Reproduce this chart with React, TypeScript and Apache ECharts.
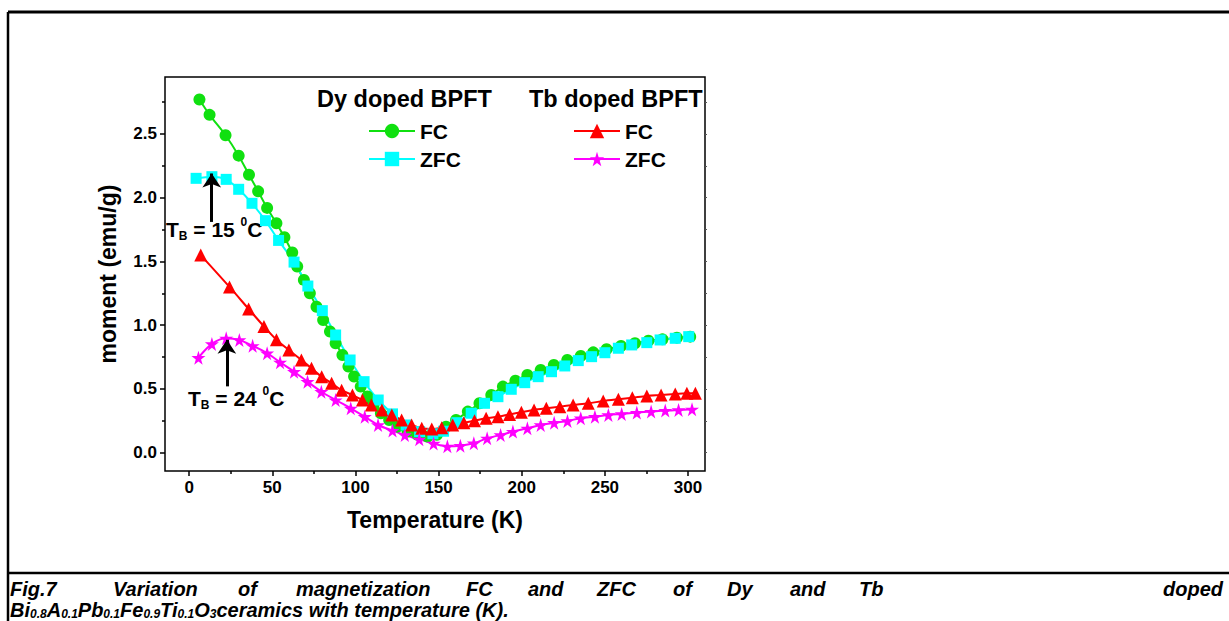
import React, { useEffect, useRef } from "react";
import * as echarts from "echarts";

// ---- data ----
const dyFC: [number, number][] = [
  [6.2, 2.77], [12.3, 2.65], [21.9, 2.49], [29.8, 2.33], [36, 2.18], [41.5, 2.05], [46.9, 1.92],
  [52.5, 1.8], [57.3, 1.69], [62, 1.57], [65, 1.46], [69, 1.355], [72.6, 1.25], [76.6, 1.145],
  [80.6, 1.04], [84.7, 0.95], [88.1, 0.858], [92.2, 0.766], [95.8, 0.675], [99.2, 0.597],
  [103.2, 0.518], [107.2, 0.44], [110.9, 0.374], [115.3, 0.309], [120.3, 0.256], [125.3, 0.204],
  [131.4, 0.165], [137.4, 0.139], [143.4, 0.126], [149, 0.14], [154.5, 0.204], [160.5, 0.256],
  [167.6, 0.322], [174.6, 0.387], [181.7, 0.453], [188.7, 0.518], [196.2, 0.565], [203.4, 0.609],
  [211.4, 0.649], [219.3, 0.688], [227.4, 0.727], [235.5, 0.758], [243, 0.787], [251, 0.811],
  [259.7, 0.837], [268.1, 0.858], [276.2, 0.878], [284.6, 0.889], [293.3, 0.902], [301.3, 0.91],
];
const dyZFC: [number, number][] = [
  [4.2, 2.152], [13.7, 2.165], [22.3, 2.144], [29.8, 2.066], [37.8, 1.956], [45.9, 1.82],
  [53.8, 1.665], [63.1, 1.495], [71.4, 1.307], [80.1, 1.114], [88.1, 0.923], [96.8, 0.727],
  [105.2, 0.557], [113.7, 0.413], [122.3, 0.304], [130.5, 0.217], [138.6, 0.165], [146.6, 0.148],
  [153, 0.168], [161, 0.235], [169.6, 0.309], [177.6, 0.387], [185.7, 0.439], [193.7, 0.497],
  [201.8, 0.549], [209.9, 0.596], [217.9, 0.635], [225.9, 0.68], [234, 0.722], [242, 0.753],
  [250, 0.784], [258.1, 0.819], [266.1, 0.845], [275.2, 0.863], [283.2, 0.884], [292.3, 0.897],
  [300.4, 0.91],
];
const tbFC: [number, number][] = [
  [7, 1.55], [24.3, 1.3], [35.8, 1.127], [45, 0.99], [52.5, 0.886], [60, 0.805], [67.5, 0.727],
  [73.6, 0.662], [79.7, 0.596], [85.7, 0.544], [91.7, 0.49], [98.2, 0.452], [104.2, 0.413],
  [109.6, 0.374], [115.9, 0.335], [121.9, 0.296], [127.8, 0.256], [133.8, 0.217], [139.9, 0.191],
  [145.9, 0.185], [151.9, 0.195], [158.5, 0.217], [165.2, 0.235], [171.6, 0.251], [178.6, 0.27],
  [185.7, 0.282], [192.7, 0.3], [199.8, 0.317], [207.4, 0.335], [214.8, 0.348], [222.9, 0.361],
  [230.9, 0.374], [240, 0.387], [249, 0.405], [258.1, 0.419], [266.5, 0.431], [275.2, 0.445],
  [283.8, 0.452], [292.3, 0.46], [299.3, 0.466], [304.4, 0.466],
];
const tbZFC: [number, number][] = [
  [5.6, 0.745], [13.7, 0.853], [22.3, 0.897], [30.2, 0.884], [38.2, 0.838], [46.9, 0.78],
  [54.7, 0.709], [63.1, 0.635], [71.2, 0.557], [79.5, 0.478], [88.1, 0.413], [97.2, 0.348],
  [105.6, 0.282], [113.6, 0.217], [122.3, 0.173], [129.7, 0.139], [138.4, 0.105], [147, 0.072],
  [155.3, 0.05], [163.1, 0.055], [171.2, 0.074], [179.2, 0.113], [187.3, 0.139], [194.7, 0.165],
  [203.4, 0.191], [211.4, 0.217], [219.5, 0.235], [227.5, 0.249], [235.5, 0.27], [244, 0.282],
  [252.1, 0.296], [260.1, 0.304], [269.2, 0.314], [277.8, 0.322], [286.3, 0.33], [294.3, 0.335],
  [302.4, 0.34],
];

const xMajorTicks = [0, 50, 100, 150, 200, 250, 300];
const xMinorTicks = [25, 75, 125, 175, 225, 275];
const yMajorTicks = [0, 0.5, 1.0, 1.5, 2.0, 2.5];
const yMinorTicks = [0.25, 0.75, 1.25, 1.75, 2.25, 2.75];
const yRightTicks = [0, 0.25, 0.5, 0.75, 1, 1.25, 1.5, 1.75, 2, 2.25, 2.5, 2.75];

// arrows: [x, tailY, tipY]
const arrow15: [number, number, number] = [13.6, 1.81, 2.19];
const arrow24: [number, number, number] = [22.7, 0.52, 0.885];

const captionLine1Words = [
  "Fig.7", "Variation", "of", "magnetization", "FC", "and", "ZFC", "of", "Dy", "and", "Tb", "doped",
];
const captionLine1X = [10, 113, 238, 296, 466, 528, 597, 673, 727, 790, 859, 1163];

const STAR = "path://M50,0 L61,35 L98,35 L68,57 L79,91 L50,70 L21,91 L32,57 L2,35 L39,35 Z";
const FONT = "'Liberation Sans', Arial, sans-serif";

export default function App() {
  const ref = useRef<HTMLDivElement>(null);
  useEffect(() => {
    const chart = echarts.init(ref.current!, null, { renderer: "svg" });
    const xMin = -14.5, xMax = 310.2, yMin = -0.144, yMax = 2.947;
    const baseX = {
      type: "value", min: xMin, max: xMax, position: "bottom",
      axisLine: { show: false, onZero: false }, splitLine: { show: false },
    };
    const baseY = {
      type: "value", min: yMin, max: yMax,
      axisLine: { show: false, onZero: false }, splitLine: { show: false },
    };
    const mkSeries = (name: string, data: [number, number][], color: string, symbol: string, size: number, extra: any = {}) => ({
      type: "line", name, data, symbol, symbolSize: size, smooth: 0.3,
      xAxisIndex: 0, yAxisIndex: 0,
      lineStyle: { color, width: 2 }, itemStyle: { color },
      emphasis: { disabled: true }, ...extra,
    });
    const arrowMark = (a: [number, number, number]) => ({
      silent: true, symbol: ["none", "arrow"], symbolSize: 14, symbolOffset: [0, 0],
      label: { show: false }, lineStyle: { color: "#000", width: 3, type: "solid" },
      itemStyle: { color: "#000" },
      data: [[{ coord: [a[0], a[1]] }, { coord: [a[0], a[2]] }]],
    });
    const legendBase = {
      orient: "vertical", itemWidth: 46, itemHeight: 18, itemGap: 2, selectedMode: false, padding: 0,
      textStyle: { fontSize: 21, fontWeight: "bold", color: "#000", fontFamily: FONT, lineHeight: 26 },
      formatter: (n: string) => n.trim(),
    };
    const rich = {
      t: { fontSize: 21, fontWeight: "bold", fontFamily: FONT, color: "#000", lineHeight: 26, verticalAlign: "middle" },
      b: { fontSize: 12, fontWeight: "bold", fontFamily: FONT, color: "#000", lineHeight: 2, verticalAlign: "bottom" },
      p: { fontSize: 12, fontWeight: "bold", fontFamily: FONT, color: "#000", lineHeight: 8, verticalAlign: "top" },
    };
    const capRich = {
      n: { fontSize: 20, fontWeight: "bold", fontStyle: "italic", fontFamily: FONT, color: "#000", lineHeight: 22, verticalAlign: "bottom" },
      s: { fontSize: 12, fontWeight: "bold", fontStyle: "italic", fontFamily: FONT, color: "#000", lineHeight: 4, verticalAlign: "bottom" },
    };
    const option: any = {
      animation: false,
      backgroundColor: "#fff",
      textStyle: { fontFamily: FONT },
      grid: { left: 165, top: 77, width: 540, height: 394, show: true, borderColor: "#000", borderWidth: 1.5, containLabel: false },
      xAxis: [
        {
          ...baseX,
          name: "Temperature (K)", nameLocation: "middle", nameGap: 37,
          nameTextStyle: { fontSize: 23, fontWeight: "bold", color: "#000", fontFamily: FONT },
          axisTick: { show: true, length: 5, inside: false, lineStyle: { color: "#000", width: 1.5 }, customValues: xMajorTicks },
          axisLabel: { show: true, fontSize: 17, fontWeight: "bold", color: "#000", margin: 8, customValues: xMajorTicks, fontFamily: FONT },
        },
        {
          ...baseX,
          axisTick: { show: true, length: 3, inside: false, lineStyle: { color: "#000", width: 1.5 }, customValues: xMinorTicks },
          axisLabel: { show: false },
        },
      ],
      yAxis: [
        {
          ...baseY, position: "left",
          name: "moment (emu/g)", nameLocation: "middle", nameGap: 46,
          nameTextStyle: { fontSize: 23, fontWeight: "bold", color: "#000", fontFamily: FONT },
          axisTick: { show: true, length: 5, inside: false, lineStyle: { color: "#000", width: 1.5 }, customValues: yMajorTicks },
          axisLabel: { show: true, fontSize: 17, fontWeight: "bold", color: "#000", margin: 8, customValues: yMajorTicks, fontFamily: FONT,
            formatter: (v: number) => v.toFixed(1) },
        },
        {
          ...baseY, position: "left",
          axisTick: { show: true, length: 3, inside: false, lineStyle: { color: "#000", width: 1.5 }, customValues: yMinorTicks },
          axisLabel: { show: false },
        },
        {
          ...baseY, position: "right",
          axisTick: { show: true, length: 2, inside: false, lineStyle: { color: "#555", width: 1 }, customValues: yRightTicks },
          axisLabel: { show: false },
        },
      ],
      legend: [
        { ...legendBase, left: 368, top: 118, data: ["FC", "ZFC"] },
        { ...legendBase, left: 573, top: 118, data: ["FC ", "ZFC "] },
      ],
      series: [
        mkSeries("FC", dyFC, "#10e010", "circle", 12),
        mkSeries("ZFC", dyZFC, "#00ffff", "rect", 11, { markLine: arrowMark(arrow15) }),
        mkSeries("FC ", tbFC, "#ff0000", "triangle", 13),
        mkSeries("ZFC ", tbZFC, "#ff00ff", STAR, 14, { markLine: arrowMark(arrow24) }),
      ],
      graphic: [
        { type: "line", shape: { x1: 8, y1: 12, x2: 1229, y2: 12 }, style: { stroke: "#000", lineWidth: 3 } },
        { type: "line", shape: { x1: 8, y1: 12, x2: 8, y2: 621 }, style: { stroke: "#000", lineWidth: 2.5 } },
        { type: "line", shape: { x1: 8, y1: 573, x2: 1229, y2: 573 }, style: { stroke: "#000", lineWidth: 2.5 } },
        { type: "text", x: 317, y: 99, style: { text: "Dy doped BPFT", fontSize: 23.5, fontWeight: "bold", fontFamily: FONT, fill: "#000", verticalAlign: "middle" } },
        { type: "text", x: 529, y: 99, style: { text: "Tb doped BPFT", fontSize: 23.5, fontWeight: "bold", fontFamily: FONT, fill: "#000", verticalAlign: "middle" } },
        { type: "text", x: 166, y: 229, style: { text: "{t|T}{b|B}{t| = 15 }{p|0}{t|C}", rich, verticalAlign: "middle" } },
        { type: "text", x: 188, y: 398, style: { text: "{t|T}{b|B}{t| = 24 }{p|0}{t|C}", rich, verticalAlign: "middle" } },
        ...captionLine1Words.map((w, i) => ({
          type: "text", x: captionLine1X[i], y: 589,
          style: { text: w, fontSize: 20, fontWeight: "bold", fontStyle: "italic", fontFamily: FONT, fill: "#000", verticalAlign: "middle" },
        })),
        { type: "text", x: 10, y: 609, style: {
          text: "{n|Bi}{s|0.8}{n|A}{s|0.1}{n|Pb}{s|0.1}{n|Fe}{s|0.9}{n|Ti}{s|0.1}{n|O}{s|3}{n|ceramics with temperature (K).}",
          rich: capRich, verticalAlign: "middle" } },
      ],
    };
    chart.setOption(option);
    return () => chart.dispose();
  }, []);
  return <div ref={ref} style={{ position: "absolute", left: 0, top: 0, width: 1229, height: 621, background: "#fff" }} />;
}
